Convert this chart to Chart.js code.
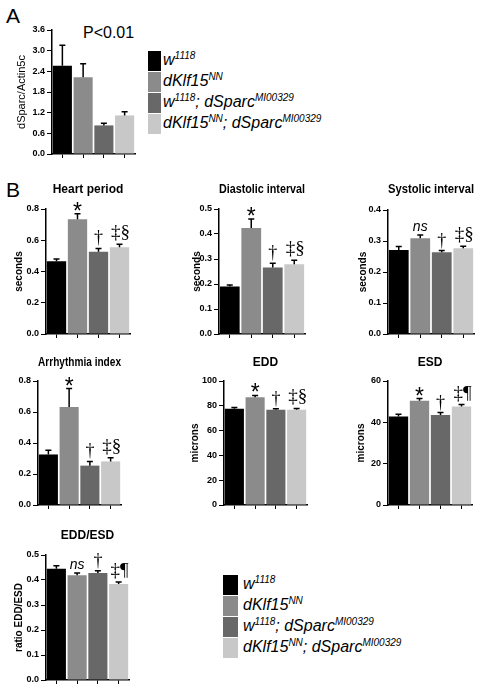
<!DOCTYPE html>
<html>
<head>
<meta charset="utf-8">
<script src="https://cdn.jsdelivr.net/npm/chart.js@4.4.1/dist/chart.umd.min.js"></script>
<style>
  body { margin: 0; background: #fff; width: 486px; height: 692px; position: relative; overflow: hidden;
         font-family: Arial, "Liberation Sans", sans-serif; color: #000; }
  canvas { position: absolute; }
  .txt { position: absolute; white-space: nowrap; }
  .sw { position: absolute; }
  .leg { position: absolute; font-style: italic; font-size: 16px; line-height: 20px; white-space: nowrap; }
  .leg sup { font-size: 10px; vertical-align: 6px; line-height: 0; }
</style>
</head>
<body>
<div class="txt" style="left:6px;top:4px;font-size:21px;">A</div>
<div class="txt" style="left:6px;top:178px;font-size:21px;">B</div>
<div class="txt" style="left:83px;top:24px;font-size:16px;">P&lt;0.01</div>
<script>
// genotypes (same order in every panel)
const groups = ['w1118', 'dKlf15NN', 'w1118; dSparcMI00329', 'dKlf15NN; dSparcMI00329'];
const groupParts = [
  [['w', '1118']],
  [['dKlf15', 'NN']],
  [['w', '1118'], ['; dSparc', 'MI00329']],
  [['dKlf15', 'NN'], ['; dSparc', 'MI00329']]
];
const shades = ['#000000', '#8b8b8b', '#686868', '#c8c8c8'];

// A: qPCR
const sparcMean = [2.56, 2.23, 0.83, 1.12];
const sparcErr = [0.6, 0.39, 0.06, 0.11];

// B: heart function
const heartMean = [0.465, 0.735, 0.527, 0.555];
const heartErr = [0.015, 0.035, 0.021, 0.019];
const diaMean = [0.19, 0.424, 0.266, 0.279];
const diaErr = [0.006, 0.036, 0.017, 0.016];
const sysMean = [0.271, 0.309, 0.264, 0.277];
const sysErr = [0.011, 0.01, 0.005, 0.006];
const arrMean = [0.326, 0.633, 0.254, 0.281];
const arrErr = [0.027, 0.118, 0.027, 0.024];
const eddMean = [77.6, 86.8, 76.9, 76.9];
const eddErr = [1.1, 1.6, 0.8, 1.0];
const esdMean = [42.8, 50.4, 43.6, 47.7];
const esdErr = [1.1, 1.1, 1.1, 0.9];
const ratioMean = [0.445, 0.419, 0.428, 0.384];
const ratioErr = [0.012, 0.009, 0.009, 0.008];

const marksStar = ['', '*', '\u2020', '\u2021\u00a7'];
const marksNs = ['', 'ns', '\u2020', '\u2021\u00a7'];
const marksEsd = ['', '*', '\u2020', '\u2021\u00b6'];
const marksRatio = ['', 'ns', '\u2020', '\u2021\u00b6'];

// font + baseline shift above the error cap for each mark
function markStyle(m) {
  if (m === '*') return { font: '23px Arial', dy: 5 };
  if (m === 'ns') return { font: 'italic 14px Arial', dy: -4 };
  if (m === '\u2020') return { font: '18px "Liberation Serif"', dy: -5 };
  return { font: '19px "Liberation Serif"', dy: -6 };
}

const errorBars = {
  id: 'errorBars',
  afterDatasetsDraw(chart) {
    const ds = chart.data.datasets[0];
    const meta = chart.getDatasetMeta(0);
    const y = chart.scales.y;
    const ctx = chart.ctx;
    ctx.save();
    ctx.strokeStyle = '#000';
    ctx.lineWidth = 1.5;
    meta.data.forEach((bar, i) => {
      const top = y.getPixelForValue(ds.data[i] + ds.errs[i]);
      ctx.beginPath();
      ctx.moveTo(bar.x, bar.y);
      ctx.lineTo(bar.x, top);
      ctx.moveTo(bar.x - 3, top);
      ctx.lineTo(bar.x + 3, top);
      ctx.stroke();
      const m = ds.marks ? ds.marks[i] : '';
      if (m) {
        const st = markStyle(m);
        ctx.font = st.font;
        ctx.fillStyle = '#000';
        ctx.textAlign = 'center';
        ctx.textBaseline = 'alphabetic';
        ctx.fillText(m, bar.x + (m.length > 1 && m !== 'ns' ? 1 : 0), top + st.dy);
      }
    });
    ctx.restore();
  }
};

function panel(p) {
  const cx = Math.max(0, p.axisX - 46);
  const yW = p.axisX - cx;
  const top = p.title ? p.titleY - 9 : p.plotTop - 10;
  const w = p.plotRight + 5 - cx;
  const h = p.plotBottom + 8 - top;
  const cv = document.createElement('canvas');
  cv.width = w; cv.height = h;
  cv.style.left = cx + 'px'; cv.style.top = top + 'px';
  cv.style.width = w + 'px'; cv.style.height = h + 'px';
  document.body.appendChild(cv);
  new Chart(cv, {
    type: 'bar',
    data: {
      labels: groups,
      datasets: [{
        data: p.mean, errs: p.err, marks: p.marks,
        backgroundColor: shades, borderWidth: 0,
        barPercentage: 0.92, categoryPercentage: 1
      }]
    },
    options: {
      responsive: false, animation: false, events: [],
      layout: { padding: { left: 0, right: 5, top: p.title ? 0 : 10, bottom: 0 } },
      plugins: {
        legend: { display: false },
        tooltip: { enabled: false },
        title: {
          display: !!p.title, text: p.title, fullSize: false, color: '#000',
          font: { family: 'Arial', size: 12, weight: 'bold' },
          padding: { top: 1.8, bottom: p.plotTop - top - 1.8 - 14.4 }
        }
      },
      scales: {
        x: {
          ticks: { display: false },
          grid: { display: true, drawOnChartArea: false, drawTicks: true, tickLength: 4, offset: false, color: '#000', lineWidth: 1 },
          border: { display: true, color: '#000', width: 1.5 },
          afterFit: s => { s.height = 8; s.paddingLeft = 0; s.paddingRight = 0; }
        },
        y: {
          min: 0, max: p.max,
          ticks: { stepSize: p.step, color: '#000', padding: 2, font: { family: 'Arial', size: 9, weight: 'bold' },
                   callback: v => v.toFixed(p.dec) },
          grid: { display: true, drawOnChartArea: false, drawTicks: true, tickLength: 5, color: '#000', lineWidth: 1 },
          border: { display: true, color: '#000', width: 1.5 },
          title: {
            display: !!p.ytitle, text: p.ytitle, color: '#000',
            font: { family: 'Arial', size: p.ytSize || 10, weight: p.ytWeight || 'bold' },
            padding: { top: p.ytX - cx - (p.ytSize || 10) * 0.6, bottom: 0 }
          },
          afterFit: s => { s.width = yW; s.paddingTop = 0; s.paddingBottom = 0; }
        }
      }
    },
    plugins: [errorBars]
  });
}

panel({ axisX: 52, plotRight: 135, plotTop: 30, plotBottom: 154, mean: sparcMean, err: sparcErr,
        max: 3.6, step: 0.6, dec: 1, ytitle: 'dSparc/Actin5c', ytX: 22, ytSize: 11, ytWeight: 'normal' });

panel({ title: 'Heart period', titleY: 190, axisX: 46, plotRight: 130, plotTop: 209, plotBottom: 334,
        mean: heartMean, err: heartErr, marks: marksStar, max: 0.8, step: 0.2, dec: 1, ytitle: 'seconds', ytX: 19 });
panel({ title: 'Diastolic interval', titleY: 190, axisX: 219, plotRight: 305, plotTop: 209, plotBottom: 334,
        mean: diaMean, err: diaErr, marks: marksStar, max: 0.5, step: 0.1, dec: 1, ytitle: 'seconds', ytX: 197 });
panel({ title: 'Systolic interval', titleY: 190, axisX: 388, plotRight: 474, plotTop: 210, plotBottom: 334,
        mean: sysMean, err: sysErr, marks: marksNs, max: 0.4, step: 0.1, dec: 1, ytitle: 'seconds', ytX: 363 });

panel({ title: 'Arrhythmia index', titleY: 363, axisX: 38, plotRight: 121, plotTop: 381, plotBottom: 505,
        mean: arrMean, err: arrErr, marks: marksStar, max: 0.8, step: 0.2, dec: 1 });
panel({ title: 'EDD', titleY: 363, axisX: 224, plotRight: 307, plotTop: 381, plotBottom: 505,
        mean: eddMean, err: eddErr, marks: marksStar, max: 100, step: 20, dec: 0, ytitle: 'microns', ytX: 195 });
panel({ title: 'ESD', titleY: 363, axisX: 388, plotRight: 472, plotTop: 381, plotBottom: 505,
        mean: esdMean, err: esdErr, marks: marksEsd, max: 60, step: 20, dec: 0, ytitle: 'microns', ytX: 361 });

panel({ title: 'EDD/ESD', titleY: 536, axisX: 46, plotRight: 129, plotTop: 555, plotBottom: 680,
        mean: ratioMean, err: ratioErr, marks: marksRatio, max: 0.5, step: 0.1, dec: 1, ytitle: 'ratio EDD/ESD', ytX: 19 });

// legends
function legend(x, y, swW, textX) {
  groupParts.forEach((parts, i) => {
    const top = y + 21 * i;
    const sw = document.createElement('div');
    sw.className = 'sw';
    sw.style.cssText = `left:${x}px;top:${top}px;width:${swW}px;height:20px;background:${shades[i]}`;
    document.body.appendChild(sw);
    const t = document.createElement('div');
    t.className = 'leg';
    t.style.left = textX + 'px';
    t.style.top = (top - 1.5) + 'px';
    parts.forEach(([base, sup]) => {
      t.appendChild(document.createTextNode(base));
      const s = document.createElement('sup');
      s.textContent = sup;
      t.appendChild(s);
    });
    document.body.appendChild(t);
  });
}
legend(148, 51, 13, 163);
legend(223, 575, 15, 243);
</script>
</body>
</html>
